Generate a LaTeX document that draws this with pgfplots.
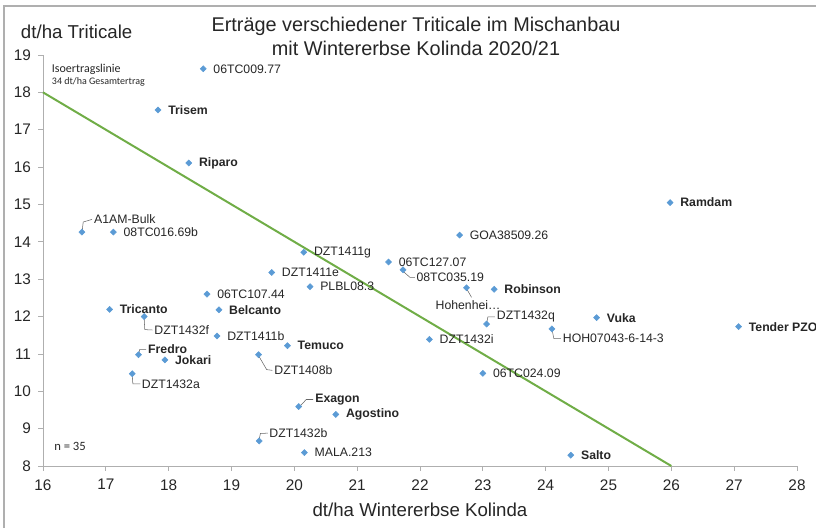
\documentclass[border=0pt]{standalone}
\usepackage{pgfplots}
\pgfplotsset{compat=1.18}
\usepackage{fontspec}
\setmainfont{Liberation Sans}
\newfontfamily\calib{Carlito}
\definecolor{xlblue}{RGB}{91,155,213}
\definecolor{xlgreen}{RGB}{112,173,71}
\definecolor{xlgray}{RGB}{175,175,175}
\begin{document}
\begin{tikzpicture}[
  lab/.style={font=\fontsize{9.2}{11}\selectfont, inner sep=0pt, text=black!85},
  blab/.style={lab, font=\fontsize{9.2}{11}\selectfont\bfseries},
  rl/.style={anchor=west, xshift=7.5pt},
  ld/.style={draw=black!60, line width=0.4pt}]
\useasboundingbox (-32.25pt,-46.5pt) rectangle (579.75pt,349.5pt);
\draw[xlgray, line width=0.9pt] (-29.25pt,-46.5pt) -- (-29.25pt,345pt) -- (579.75pt,345pt);
\begin{axis}[
  at={(0pt,0pt)}, anchor=south west,
  scale only axis, width=565.5pt, height=308.25pt,
  xmin=16, xmax=28, ymin=8, ymax=19,
  xtick={16,17,...,28}, ytick={8,9,...,19},
  axis lines=left,
  axis line style={draw=xlgray, -},
  tick style={draw=xlgray, line width=0.6pt},
  tick align=outside, major tick length=3.5pt,
  every tick label/.append style={font=\fontsize{11.5}{13}\selectfont, text=black!85},
  xticklabel style={yshift=-3pt},
  yticklabel style={xshift=-2pt},
  /pgf/number format/assume math mode=true,
  clip=false,
]
\addplot[color=xlgreen, line width=1.5pt] coordinates {(16,18) (26,8)};
\addplot[only marks, mark=square*, mark size=1.6pt, mark options={rotate=45, fill=xlblue, draw=xlblue}] table {
x y
18.55 18.63
17.83 17.53
18.32 16.11
25.98 15.05
16.62 14.26
17.12 14.26
22.63 14.18
20.15 13.72
21.50 13.46
21.73 13.25
19.64 13.18
20.25 12.80
22.74 12.77
23.18 12.73
18.61 12.60
17.06 12.19
18.80 12.18
17.61 12.00
24.81 11.97
23.06 11.80
27.07 11.73
24.10 11.67
18.77 11.48
22.15 11.39
19.89 11.22
19.43 10.98
17.52 10.98
17.94 10.84
17.42 10.47
23.00 10.48
20.07 9.59
20.66 9.38
19.44 8.67
20.16 8.36
24.40 8.29
};
% labels to the right
\node[lab,rl] at (axis cs:18.55,18.63) {06TC009.77};
\node[blab,rl] at (axis cs:17.83,17.53) {Trisem};
\node[blab,rl] at (axis cs:18.32,16.11) {Riparo};
\node[blab,rl] at (axis cs:25.98,15.05) {Ramdam};
\node[lab,rl] at (axis cs:17.12,14.26) {08TC016.69b};
\node[lab,rl] at (axis cs:22.63,14.18) {GOA38509.26};
\node[lab,rl] at (axis cs:20.15,13.72) {DZT1411g};
\node[lab,rl] at (axis cs:21.50,13.46) {06TC127.07};
\node[lab,rl] at (axis cs:19.64,13.18) {DZT1411e};
\node[lab,rl] at (axis cs:20.25,12.80) {PLBL08.3};
\node[blab,rl] at (axis cs:23.18,12.73) {Robinson};
\node[lab,rl] at (axis cs:18.61,12.60) {06TC107.44};
\node[blab,rl] at (axis cs:17.06,12.19) {Tricanto};
\node[blab,rl] at (axis cs:18.80,12.18) {Belcanto};
\node[blab,rl] at (axis cs:24.81,11.97) {Vuka};
\node[blab,rl] at (axis cs:27.07,11.73) {Tender PZO};
\node[lab,rl] at (axis cs:18.77,11.48) {DZT1411b};
\node[lab,rl] at (axis cs:22.15,11.39) {DZT1432i};
\node[blab,rl] at (axis cs:19.89,11.22) {Temuco};
\node[blab,rl] at (axis cs:17.94,10.84) {Jokari};
\node[lab,rl] at (axis cs:23.00,10.48) {06TC024.09};
\node[blab,rl] at (axis cs:20.66,9.38) {Agostino};
\node[lab,rl] at (axis cs:20.16,8.36) {MALA.213};
\node[blab,rl] at (axis cs:24.40,8.29) {Salto};
% labels with leader lines
\draw[ld] (axis cs:16.625,14.31) -- (axis cs:16.64,14.53) -- (axis cs:16.78,14.60);
\node[lab,anchor=west] at (axis cs:16.81,14.60) {A1AM-Bulk};
\draw[ld] (axis cs:21.73,13.21) -- (axis cs:21.84,13.05) -- (axis cs:21.92,13.05);
\node[lab,anchor=west] at (axis cs:21.94,13.05) {08TC035.19};
\draw[ld] (axis cs:22.75,12.72) -- (axis cs:22.82,12.515);
\node[lab,anchor=center] at (axis cs:22.765,12.30) {Hohenhei…};
\draw[ld] (axis cs:23.065,11.85) -- (axis cs:23.08,11.99) -- (axis cs:23.19,11.99);
\node[lab,anchor=west] at (axis cs:23.22,11.99) {DZT1432q};
\draw[ld] (axis cs:24.105,11.62) -- (axis cs:24.13,11.41) -- (axis cs:24.24,11.41);
\node[lab,anchor=west] at (axis cs:24.27,11.41) {HOH07043-6-14-3};
\draw[ld] (axis cs:17.61,11.95) -- (axis cs:17.62,11.65) -- (axis cs:17.74,11.64);
\node[lab,anchor=west] at (axis cs:17.77,11.64) {DZT1432f};
\draw[ld] (axis cs:19.435,10.94) -- (axis cs:19.56,10.58) -- (axis cs:19.65,10.56);
\node[lab,anchor=west] at (axis cs:19.68,10.56) {DZT1408b};
\draw[ld] (axis cs:17.525,11.02) -- (axis cs:17.54,11.12) -- (axis cs:17.64,11.12);
\node[blab,anchor=west] at (axis cs:17.67,11.12) {Fredro};
\draw[ld] (axis cs:17.42,10.43) -- (axis cs:17.43,10.20) -- (axis cs:17.55,10.20);
\node[lab,anchor=west] at (axis cs:17.57,10.20) {DZT1432a};
\draw[ld] (axis cs:20.1,9.62) -- (axis cs:20.19,9.78) -- (axis cs:20.30,9.78);
\node[blab,anchor=west] at (axis cs:20.33,9.77) {Exagon};
\draw[ld] (axis cs:19.44,8.71) -- (axis cs:19.46,8.87) -- (axis cs:19.58,8.88);
\node[lab,anchor=west] at (axis cs:19.60,8.88) {DZT1432b};
\end{axis}
% titles and notes
\node[align=center, font=\fontsize{14.9}{18}\selectfont, text=black!85] at (279.75pt,322pt) {Erträge verschiedener Triticale im Mischanbau\\mit Wintererbse Kolinda 2020/21};
\node[anchor=west, inner sep=0pt, font=\fontsize{14}{16}\selectfont, text=black!85] at (-16.7pt,325.7pt) {dt/ha Triticale};
\node[font=\fontsize{14}{16}\selectfont, text=black!85] at (282.75pt,-33pt) {dt/ha Wintererbse Kolinda};
\node[anchor=west, inner sep=0pt, font=\calib\fontsize{9}{10}\selectfont, text=black!85] at (6.5pt,297.75pt) {Isoertragslinie};
\node[anchor=west, inner sep=0pt, font=\calib\fontsize{7.5}{9}\selectfont, text=black!85] at (6.5pt,287.8pt) {34 dt/ha Gesamtertrag};
\node[anchor=west, inner sep=0pt, font=\calib\fontsize{9.5}{11}\selectfont, text=black!85] at (8.25pt,14.5pt) {n = 35};
\end{tikzpicture}
\end{document}
